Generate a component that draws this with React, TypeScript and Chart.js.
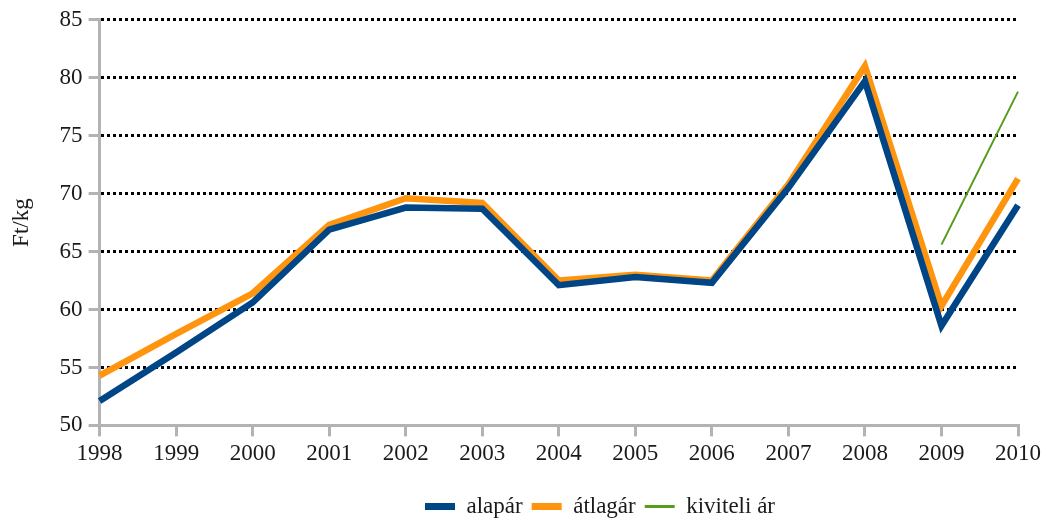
import React, { useEffect, useRef } from "react";
import { Chart, registerables } from "chart.js";

Chart.register(...registerables);

const years = ["1998","1999","2000","2001","2002","2003","2004","2005","2006","2007","2008","2009","2010"];
const alapar = [52.1, 56.3, 60.6, 66.9, 68.8, 68.7, 62.1, 62.8, 62.3, 70.5, 79.7, 58.6, 69.0];
const atlagar = [54.3, 57.9, 61.4, 67.3, 69.6, 69.2, 62.5, 63.0, 62.5, 70.8, 81.0, 60.3, 71.3];
const kiviteliAr = [null, null, null, null, null, null, null, null, null, null, null, 65.6, 78.8];

const FONT = "'Liberation Serif', 'DejaVu Serif', serif";

const legendShift = {
  id: "legendShift",
  afterLayout(chart: any) {
    const lg = chart.legend;
    if (lg) {
      lg.left += 87;
      lg.right += 87;
      lg.top += 8;
      lg.bottom += 8;
    }
  },
};

export default function App() {
  const ref = useRef<HTMLCanvasElement | null>(null);
  useEffect(() => {
    document.body.style.margin = "0";
    const ctx = ref.current!;
    const chart = new Chart(ctx, {
      type: "line",
      plugins: [legendShift],
      data: {
        labels: years,
        datasets: [
          { label: "alapár", data: alapar, borderColor: "#004586", backgroundColor: "#004586", borderWidth: 6.5, pointRadius: 0, tension: 0 },
          { label: "átlagár", data: atlagar, borderColor: "#ff950e", backgroundColor: "#ff950e", borderWidth: 6.5, pointRadius: 0, tension: 0 },
          { label: "kiviteli ár", data: kiviteliAr, borderColor: "#579d1c", backgroundColor: "#579d1c", borderWidth: 2, pointRadius: 0, tension: 0 },
        ],
      },
      options: {
        animation: false,
        responsive: false,
        maintainAspectRatio: false,
        layout: { padding: { top: 1, right: 32, left: 8, bottom: 2 } },
        plugins: {
          legend: {
            position: "bottom",
            labels: {
              usePointStyle: true,
              pointStyle: "line",
              pointStyleWidth: 30,
              boxWidth: 30,
              padding: 9,
              color: "#1a1a1a",
              font: { family: FONT, size: 23 },
              generateLabels: (c: any) =>
                c.data.datasets.map((ds: any, i: number) => ({
                  text: ds.label,
                  strokeStyle: ds.borderColor,
                  fillStyle: ds.borderColor,
                  lineWidth: i < 2 ? 7 : 3,
                  pointStyle: "line",
                  datasetIndex: i,
                  hidden: false,
                  fontColor: "#1a1a1a",
                })),
            },
          },
          tooltip: { enabled: false },
        },
        scales: {
          x: {
            offset: false,
            afterFit: (s: any) => {
              s.height += 6;
            },
            border: { color: "#b3b3b3", width: 3 },
            grid: { drawOnChartArea: false, color: "#b3b3b3", tickColor: "#b3b3b3", tickLength: 11, lineWidth: 3 },
            ticks: { color: "#1a1a1a", font: { family: FONT, size: 23 }, padding: 4, maxRotation: 0 },
          },
          y: {
            min: 50,
            max: 85,
            border: { color: "#b3b3b3", width: 3, dash: [3, 3] },
            title: { display: true, text: "Ft/kg", color: "#1a1a1a", font: { family: FONT, size: 23 }, padding: { top: 0, bottom: 18 } },
            grid: {
              color: (c: any) => (c.tick && c.tick.value === 50 ? "rgba(0,0,0,0)" : "#000000"),
              lineWidth: 3,
              tickColor: "#b3b3b3",
              tickLength: 11,
              tickWidth: 3,
              tickBorderDash: [],
            },
            ticks: { stepSize: 5, color: "#1a1a1a", font: { family: FONT, size: 23 }, padding: 6 },
          },
        },
      },
    });
    return () => chart.destroy();
  }, []);
  return (
    <div style={{ width: 1050, height: 522 }}>
      <canvas ref={ref} width={1050} height={522} style={{ width: 1050, height: 522 }} />
    </div>
  );
}
